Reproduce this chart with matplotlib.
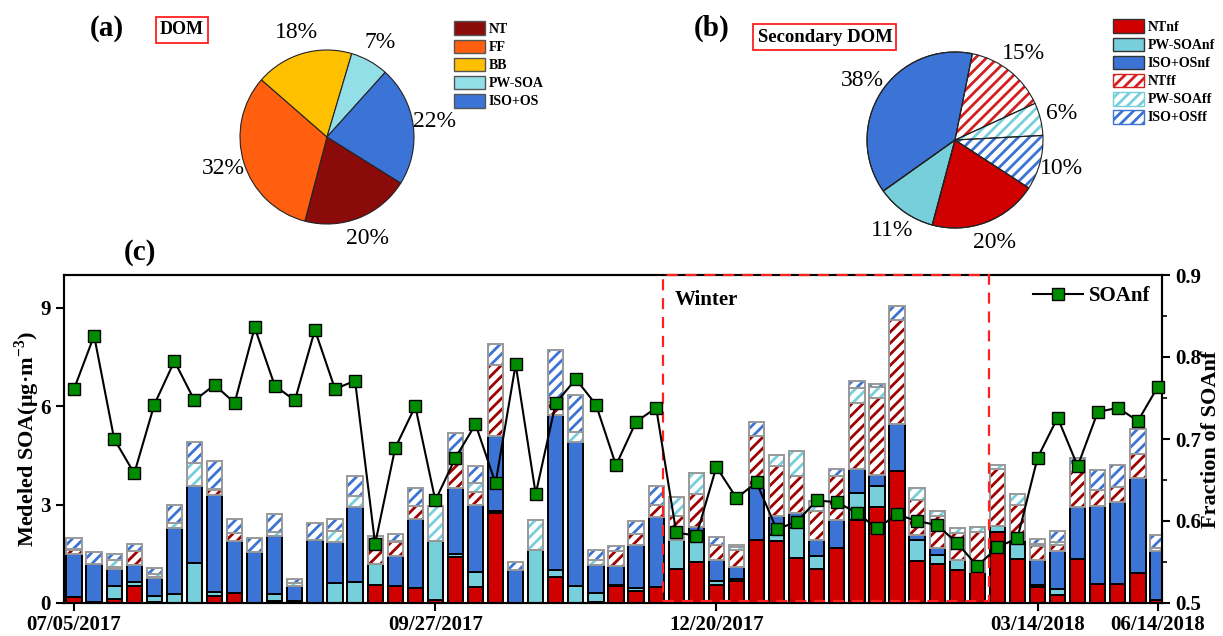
import numpy as np
import matplotlib
matplotlib.use('Agg')
import matplotlib.pyplot as plt
from matplotlib.patches import Patch, Rectangle

plt.rcParams['font.family'] = ['Liberation Serif', 'DejaVu Serif']
plt.rcParams['mathtext.fontset'] = 'custom'
plt.rcParams['mathtext.rm'] = 'Liberation Serif'
plt.rcParams['mathtext.bf'] = 'Liberation Serif:bold'
plt.rcParams['hatch.linewidth'] = 2.0

# ---- pie data ----
dom_labels = ['NT', 'FF', 'BB', 'PW-SOA', 'ISO+OS']
dom_share = [20, 32, 18, 7, 22]
sec_labels = ['NTnf', 'PW-SOAnf', 'ISO+OSnf', 'NTff', 'PW-SOAff', 'ISO+OSff']
sec_share = [20, 11, 38, 15, 6, 10]

# ---- bar data (ug/m3) ----
nt_nf = [0.17, 0.03, 0.12, 0.51, 0.02, 0, 0, 0.22, 0.30, 0, 0.06, 0.07, 0, 0, 0,
         0.56, 0.52, 0.46, 0.08, 1.40, 0.49, 2.75, 0, 0, 0.79, 0, 0.03, 0.52, 0.38,
         0.49, 1.04, 1.24, 0.56, 0.66, 1.93, 1.88, 1.37, 1.05, 1.68, 2.52, 2.92,
         4.01, 1.29, 1.20, 1.02, 0.95, 2.17, 1.35, 0.48, 0.25, 1.34, 0.59, 0.58,
         0.91, 0.10]
pw_nf = [0.02, 0, 0.39, 0.12, 0.20, 0.28, 1.22, 0.12, 0, 0, 0.22, 0, 0, 0.61, 0.63,
         0.64, 0, 0, 1.80, 0.10, 0.46, 0.07, 0, 1.62, 0.23, 0.53, 0.27, 0.02, 0.08,
         0, 0.87, 0.68, 0.10, 0.06, 0, 0.20, 0.92, 0.37, 0, 0.83, 0.64, 0, 0.64,
         0.25, 0.28, 0, 0.18, 0.56, 0.08, 0.18, 0, 0, 0, 0, 0]
iso_nf = [1.30, 1.16, 0.54, 0.53, 0.54, 2.01, 2.36, 2.96, 1.60, 1.55, 1.77, 0.46,
          1.91, 1.24, 2.29, 0, 0.91, 2.11, 0, 2.01, 2.03, 2.28, 1.00, 0, 4.72,
          4.38, 0.87, 0.60, 1.32, 2.13, 0, 0.40, 0.66, 0.37, 1.58, 0.56, 0.45,
          0.51, 0.84, 0.75, 0.35, 1.46, 0.15, 0.23, 0, 0, 0, 0, 0.76, 1.15, 1.59,
          2.36, 2.50, 2.90, 1.48]
nt_ff = [0.13, 0, 0.05, 0.42, 0.03, 0, 0, 0.16, 0.22, 0, 0, 0, 0, 0, 0, 0.45, 0.44,
         0.38, 0, 0.76, 0.40, 2.17, 0, 0, 0.40, 0, 0, 0.44, 0.33, 0.38, 0.74, 1.00,
         0.46, 0.54, 1.57, 1.53, 1.12, 0.86, 1.34, 2.00, 2.34, 3.17, 1.07, 0.96,
         0.83, 1.21, 1.74, 1.09, 0.41, 0.20, 1.06, 0.48, 0.46, 0.74, 0]
pw_ff = [0.02, 0, 0.20, 0.02, 0.10, 0.15, 0.69, 0.03, 0, 0, 0.12, 0.08, 0, 0.36,
         0.35, 0.10, 0.02, 0, 1.07, 0.10, 0.28, 0, 0, 0.90, 0.10, 0.30, 0.15, 0, 0,
         0, 0.58, 0.64, 0, 0.08, 0, 0.35, 0.78, 0.31, 0, 0.45, 0.34, 0, 0.36, 0.15,
         0.16, 0.16, 0.13, 0.32, 0.06, 0.08, 0, 0, 0, 0, 0.10]
iso_ff = [0.35, 0.35, 0.18, 0.21, 0.18, 0.56, 0.63, 0.83, 0.45, 0.43, 0.53, 0.13,
          0.53, 0.35, 0.61, 0.28, 0.21, 0.56, 0, 0.81, 0.51, 0.64, 0.25, 0, 1.48,
          1.14, 0.31, 0.17, 0.38, 0.58, 0, 0, 0.23, 0.07, 0.43, 0, 0, 0, 0.23, 0.21,
          0.10, 0.40, 0, 0, 0, 0, 0, 0, 0.17, 0.32, 0.42, 0.64, 0.68, 0.76, 0.40]

# fraction of SOAnf
soanf_frac = [0.761, 0.826, 0.700, 0.658, 0.742, 0.795, 0.747, 0.766, 0.744, 0.836,
              0.765, 0.747, 0.833, 0.761, 0.771, 0.572, 0.689, 0.740, 0.625, 0.677,
              0.718, 0.646, 0.791, 0.633, 0.744, 0.773, 0.742, 0.668, 0.721, 0.738,
              0.586, 0.582, 0.666, 0.628, 0.647, 0.590, 0.599, 0.625, 0.623, 0.610,
              0.591, 0.608, 0.600, 0.595, 0.573, 0.545, 0.568, 0.579, 0.677, 0.726,
              0.667, 0.733, 0.738, 0.722, 0.764]

tick_pos = [0, 18, 32, 48, 54]
tick_labels = ['07/05/2017', '09/27/2017', '12/20/2017', '03/14/2018', '06/14/2018']
winter_span = [29.35, 45.6]

# colours
c_nt_dom = '#8b0a0a'
c_ff = '#ff5f0f'
c_bb = '#ffc000'
c_pw_dom = '#93dfe8'
c_iso_dom = '#3b73d6'
c_nt = '#d00000'
c_pw = '#78cfdc'
c_iso = '#3b74d5'
c_nt_hatch = '#a00000'

W, H = 1223, 636
fig = plt.figure(figsize=(W / 100, H / 100), dpi=100)

# ---------- (a) DOM pie ----------
ax_a = fig.add_axes([240 / W, 1 - 224 / H, 174 / W, 174 / H])
ax_a.pie(dom_share, colors=[c_nt_dom, c_ff, c_bb, c_pw_dom, c_iso_dom],
         startangle=-32, counterclock=False, autopct='%d%%', pctdistance=1.25,
         wedgeprops=dict(edgecolor='#222222', linewidth=0.8),
         textprops=dict(fontsize=17))
ax_a.set_xlim(-1, 1)
ax_a.set_ylim(-1, 1)
ax_a.set_aspect('equal')
handles_a = [Patch(facecolor=c, edgecolor='#555555', label=l)
             for c, l in zip([c_nt_dom, c_ff, c_bb, c_pw_dom, c_iso_dom], dom_labels)]
fig.legend(handles=handles_a, loc='upper left', bbox_to_anchor=(441 / W, 1 - 9 / H),
           frameon=False, prop=dict(weight='bold', size=10), handlelength=2.3,
           handleheight=1.15, labelspacing=0.25, handletextpad=0.25)
fig.text(107 / W, 1 - 28 / H, '(a)', fontsize=21, fontweight='bold',
         ha='center', va='center')
fig.text(182 / W, 1 - 30 / H, 'DOM', fontsize=13, fontweight='bold', ha='center',
         va='center',
         bbox=dict(facecolor='white', edgecolor='#ff2020', linewidth=1.3, pad=3))

# ---------- (b) secondary DOM pie ----------
ax_b = fig.add_axes([867 / W, 1 - 228 / H, 176 / W, 176 / H])
wedges, _, _ = ax_b.pie(sec_share, colors=[c_nt, c_pw, c_iso, 'white', 'white', 'white'],
                        startangle=-33, counterclock=False, autopct='%d%%',
                        pctdistance=1.25,
                        wedgeprops=dict(edgecolor='#222222', linewidth=0.8),
                        textprops=dict(fontsize=17))
for wd, hc in zip(wedges[3:], ['#d42020', c_pw, c_iso]):
    wd.set_hatch('///')
    wd.set_edgecolor(hc)
    wd.set_linewidth(0)
ax_b.pie(sec_share, colors=['none'] * len(sec_share), startangle=-33,
         counterclock=False,
         wedgeprops=dict(edgecolor='#222222', linewidth=0.8, fill=False))
ax_b.set_xlim(-1, 1)
ax_b.set_ylim(-1, 1)
ax_b.set_aspect('equal')
handles_b = [Patch(facecolor=c_nt, edgecolor='#333333', label=sec_labels[0]),
             Patch(facecolor=c_pw, edgecolor='#333333', label=sec_labels[1]),
             Patch(facecolor=c_iso, edgecolor='#333333', label=sec_labels[2]),
             Patch(facecolor='white', edgecolor='#d42020', hatch='///', label=sec_labels[3]),
             Patch(facecolor='white', edgecolor=c_pw, hatch='///', label=sec_labels[4]),
             Patch(facecolor='white', edgecolor=c_iso, hatch='///', label=sec_labels[5])]
fig.legend(handles=handles_b, loc='upper left', bbox_to_anchor=(1100 / W, 1 - 7 / H),
           frameon=False, prop=dict(weight='bold', size=10), handlelength=2.3,
           handleheight=1.15, labelspacing=0.25, handletextpad=0.25)
fig.text(712 / W, 1 - 28 / H, '(b)', fontsize=21, fontweight='bold',
         ha='center', va='center')
fig.text(825 / W, 1 - 37 / H, 'Secondary DOM', fontsize=13.5, fontweight='bold',
         ha='center', va='center',
         bbox=dict(facecolor='white', edgecolor='#ff2020', linewidth=1.3, pad=3))

# ---------- (c) stacked bars ----------
ax = fig.add_axes([64 / W, 1 - 603 / H, 1098 / W, 328 / H])
x = np.arange(len(nt_nf))
w = 0.76
solid = [(nt_nf, c_nt), (pw_nf, c_pw), (iso_nf, c_iso)]
hatched = [(nt_ff, c_nt_hatch), (pw_ff, c_pw), (iso_ff, c_iso)]
bottom = np.zeros(len(x))
for vals, col in solid:
    v = np.array(vals)
    m = v > 0
    ax.bar(x[m], v[m], w, bottom=bottom[m], color=col, edgecolor='black', linewidth=1.4,
           zorder=2)
    bottom += v
for vals, col in hatched:
    v = np.array(vals)
    m = v > 0
    ax.bar(x[m], v[m], w, bottom=bottom[m], color='white', edgecolor=col, hatch='///',
           linewidth=0, zorder=2)
    ax.bar(x[m], v[m], w, bottom=bottom[m], fill=False, edgecolor='#999999',
           linewidth=1.4, zorder=2)
    bottom += v

ax.set_xlim(-0.5, 54.2)
ax.set_ylim(0, 10)
ax.set_yticks([0, 3, 6, 9])
ax.set_xticks(tick_pos)
ax.set_xticklabels(tick_labels)
ax.tick_params(axis='both', labelsize=15, width=1.5, length=6, direction='out')
ax.tick_params(axis='x', pad=3)
for lab in ax.get_xticklabels() + ax.get_yticklabels():
    lab.set_fontweight('bold')
for s in ax.spines.values():
    s.set_linewidth(1.5)
ax.set_ylabel('Medeled SOA(μg·m$^{\\mathbf{-3}}$)', fontsize=16, fontweight='bold',
              labelpad=-1)

ax2 = ax.twinx()
ax2.add_patch(Rectangle((winter_span[0], 0.07), winter_span[1] - winter_span[0], 9.93,
                        transform=ax.transData, fill=False, edgecolor='#ff2020',
                        linewidth=1.6, linestyle=(0, (5, 3.5)), zorder=3, clip_on=False))
ax.text(winter_span[0] + 0.55, 9.25, 'Winter', fontsize=15, fontweight='bold',
        ha='left', va='center')
ax2.plot(x, soanf_frac, color='black', linewidth=1.5, marker='s', markersize=9,
         markerfacecolor='#008c00', markeredgecolor='black', markeredgewidth=1.0,
         clip_on=False, zorder=4, label='SOAnf')
ax2.set_ylim(0.5, 0.9)
ax2.set_yticks([0.5, 0.6, 0.7, 0.8, 0.9])
ax2.set_yticks([0.55, 0.65, 0.75, 0.85], minor=True)
ax2.tick_params(axis='y', labelsize=15, width=1.5, length=6, direction='out')
ax2.tick_params(axis='y', which='minor', width=1.2, length=3.5)
for lab in ax2.get_yticklabels():
    lab.set_fontweight('bold')
for s in ax2.spines.values():
    s.set_linewidth(1.5)
ax2.set_ylabel('Fraction of SOAnf', fontsize=16, fontweight='bold', labelpad=0)
ax2.legend(loc='upper right', frameon=False, prop=dict(weight='bold', size=15),
           handlelength=2.4, borderaxespad=0.15, handletextpad=0.3)

fig.text(140 / W, 1 - 252 / H, '(c)', fontsize=21, fontweight='bold',
         ha='center', va='center')

fig.savefig('out.png', dpi=100)
